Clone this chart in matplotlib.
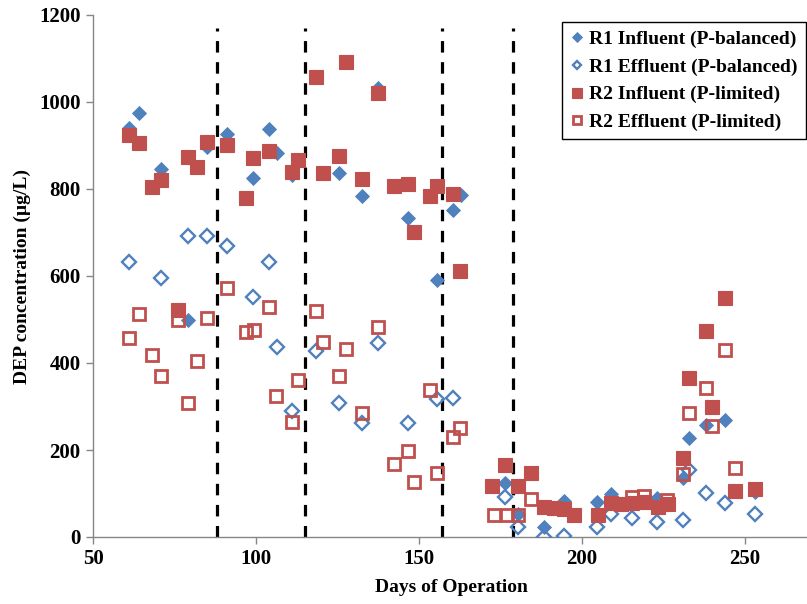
import matplotlib
matplotlib.use("Agg")
import matplotlib.pyplot as plt

plt.rcParams["font.family"] = ["Liberation Serif", "DejaVu Serif"]
plt.rcParams["font.weight"] = "bold"

# R1 (P-balanced) influent / effluent
r1_inf_day = [61, 64, 71, 79, 85, 91, 99, 104, 106.5, 111, 125.5, 132.5, 137.5,
              146.5, 155.5, 160.5, 163, 176.5, 180.5, 188.5, 194.5, 204.5, 209,
              223, 231, 233, 238, 244, 253]
r1_inf_val = [940, 975, 845, 500, 897, 926, 825, 938, 883, 832, 837, 784, 1032,
              733, 591, 752, 786, 123, 54, 22, 82, 81, 100,
              89, 135, 228, 257, 269, 103]

r1_eff_day = [61, 71, 79, 85, 91, 99, 104, 106.5, 111, 118.5, 125.5, 132.5, 137.5,
              146.5, 155.5, 160.5, 176.5, 180.5, 188.5, 194.5, 204.5, 209, 215.5,
              223, 231, 233, 238, 244, 253]
r1_eff_val = [632, 596, 693, 693, 669, 552, 632, 437, 290, 428, 309, 262, 445,
              261, 318, 319, 92, 22, 1, 2, 23, 53, 43,
              35, 39, 154, 101, 79, 53]

# R2 (P-limited) influent / effluent
r2_inf_day = [61, 64, 68, 71, 76, 79, 82, 85, 91, 97, 99, 104, 111, 113, 118.5,
              120.5, 125.5, 127.5, 132.5, 137.5, 142.5, 146.5, 148.5, 153.5,
              155.5, 160.5, 162.5, 172.5, 176.5, 180.5, 184.5, 188.5, 191.5,
              194.5, 197.5, 205, 209, 212, 215.5, 219, 223.5, 226.5, 231, 233,
              238, 240, 244, 247, 253]
r2_inf_val = [924, 906, 805, 821, 522, 874, 851, 907, 901, 779, 872, 888, 840, 866, 1058,
              836, 877, 1091, 824, 1021, 807, 811, 700, 785,
              808, 788, 612, 117, 165, 117, 148, 70, 66,
              65, 51, 50, 79, 75, 78, 80, 68, 75, 182, 366,
              473, 298, 550, 106, 110]

r2_eff_day = [61, 64, 68, 71, 76, 79, 82, 85, 91, 97, 99.5, 104, 106, 111, 113,
              118.5, 120.5, 125.5, 127.5, 132.5, 137.5, 142.5, 146.5, 148.5,
              153.5, 155.5, 160.5, 162.5, 173, 177, 180.5, 184.5, 215.5, 219,
              226, 231, 233, 238, 240, 244, 247]
r2_eff_val = [457, 513, 419, 370, 499, 307, 405, 503, 572, 472, 477, 529, 323, 265, 362,
              520, 449, 369, 432, 286, 483, 167, 198, 126,
              339, 148, 231, 250, 51, 50, 50, 87, 93, 95,
              84, 144, 286, 343, 256, 431, 159]

# operating phase boundaries (days)
phase_days = [88, 115, 157, 179]

x_ticks = [50, 100, 150, 200, 250]
y_ticks = [0, 200, 400, 600, 800, 1000, 1200]

blue = "#4F81BD"
red = "#C0504D"
axis_grey = "#868686"

fig = plt.figure(figsize=(8.07, 6.04), dpi=100)
ax = fig.add_axes([93 / 807, 67 / 604, 717 / 807, 522 / 604])

for d in phase_days:
    ax.plot([d, d], [0, 1170], color="black", lw=2.3, dashes=(3.6, 3.0), zorder=1)

ax.plot(r1_inf_day, r1_inf_val, ls="none", marker="D", ms=7.4, mfc=blue, mec=blue,
        mew=0.6, label="R1 Influent (P-balanced)", zorder=3)
ax.plot(r1_eff_day, r1_eff_val, ls="none", marker="D", ms=6.9, mfc="none", mec=blue,
        mew=1.7, label="R1 Effluent (P-balanced)", zorder=4)
ax.plot(r2_inf_day, r2_inf_val, ls="none", marker="s", ms=10, mfc=red, mec=red,
        mew=0.8, label="R2 Influent (P-limited)", zorder=5)
ax.plot(r2_eff_day, r2_eff_val, ls="none", marker="s", ms=8.4, mfc="none", mec=red,
        mew=2.0, label="R2 Effluent (P-limited)", zorder=6)

ax.set_xlim(50, 270)
ax.set_ylim(0, 1200)
ax.set_xticks(x_ticks)
ax.set_yticks(y_ticks)

for side in ("top", "right"):
    ax.spines[side].set_visible(False)
for side in ("left", "bottom"):
    ax.spines[side].set_color(axis_grey)
    ax.spines[side].set_linewidth(1.0)
ax.tick_params(direction="out", length=5, width=1.0, color=axis_grey,
               labelsize=15, pad=4)
for lab in ax.get_xticklabels() + ax.get_yticklabels():
    lab.set_fontweight("bold")

ax.set_xlabel("Days of Operation", fontsize=14, fontweight="bold", labelpad=7)
ax.set_ylabel("DEP concentration (µg/L)", fontsize=14, fontweight="bold", labelpad=6)

leg = ax.legend(loc="upper right", bbox_to_anchor=(806 / 807, 1 - 22 / 604),
                bbox_transform=fig.transFigure, fontsize=14, markerscale=0.65,
                handlelength=0.7, handletextpad=0.3, labelspacing=0.52,
                borderpad=0.42, fancybox=False, framealpha=1, edgecolor="black",
                borderaxespad=0)
leg.get_frame().set_linewidth(1.0)
for t in leg.get_texts():
    t.set_fontweight("bold")

fig.savefig("out.png", dpi=100)
